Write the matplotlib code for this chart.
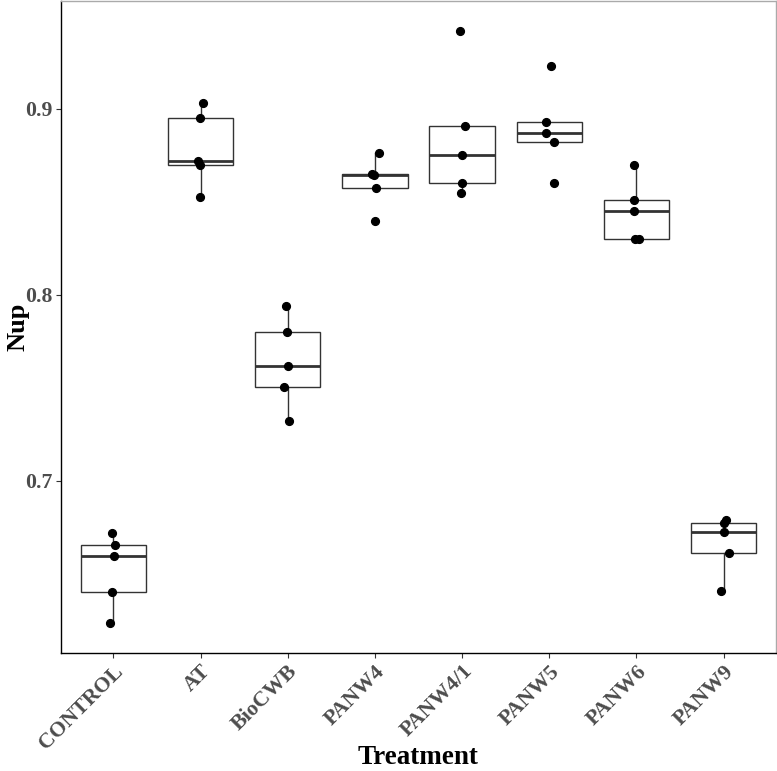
import matplotlib
matplotlib.use("Agg")
import matplotlib.pyplot as plt

treatments = ["CONTROL", "AT", "BioCWB", "PANW4", "PANW4/1", "PANW5", "PANW6", "PANW9"]
control = [0.6717, 0.6654, 0.6595, 0.6403, 0.6233]
at = [0.9032, 0.8948, 0.8720, 0.8699, 0.8527]
biocwb = [0.7939, 0.7801, 0.7618, 0.7502, 0.7323]
panw4 = [0.8760, 0.8649, 0.8641, 0.8572, 0.8398]
panw4_1 = [0.9419, 0.8907, 0.8751, 0.8601, 0.8547]
panw5 = [0.9231, 0.8930, 0.8869, 0.8819, 0.8598]
panw6 = [0.8699, 0.8509, 0.8452, 0.8297, 0.8297]
panw9 = [0.6789, 0.6770, 0.6722, 0.6609, 0.6407]
values = [control, at, biocwb, panw4, panw4_1, panw5, panw6, panw9]

# horizontal jitter of the points (category units)
jitter = [
    [-0.017, 0.017, 0.009, -0.017, -0.037],
    [0.023, -0.005, -0.028, -0.005, -0.008],
    [-0.018, -0.010, 0.005, -0.037, 0.016],
    [0.045, -0.036, -0.009, 0.007, 0.002],
    [-0.023, 0.031, 0.0, 0.0, -0.011],
    [0.025, -0.040, -0.037, 0.052, 0.052],
    [-0.023, -0.023, -0.034, -0.019, 0.026],
    [0.028, 0.009, -0.002, 0.062, -0.030],
]
yticks = [0.7, 0.8, 0.9]

W, H = 777, 771
fig = plt.figure(figsize=(W / 100, H / 100), dpi=100)
ax_h = (653 - 1) / H
ax = fig.add_axes([61 / W, 1 - 653 / H, (776 - 61) / W, ax_h])

serif = ["Liberation Serif", "DejaVu Serif"]
positions = list(range(1, len(treatments) + 1))
box_col = "#333333"
ax.boxplot(values, positions=positions, widths=0.75, showfliers=False, whis=1.5,
           patch_artist=True,
           boxprops=dict(facecolor="white", edgecolor=box_col, linewidth=1.0),
           whiskerprops=dict(color=box_col, linewidth=1.0),
           capprops=dict(linewidth=0),
           medianprops=dict(color=box_col, linewidth=2.0),
           zorder=2)

for i, (vals, jit) in enumerate(zip(values, jitter)):
    xs = [positions[i] + j for j in jit]
    ax.plot(xs, vals, "o", color="black", markersize=5.6, zorder=3, linestyle="none")

ax.set_xlim(0.4, 8.6)
lo = min(min(v) for v in values)
hi = max(max(v) for v in values)
pad = (hi - lo) * 0.05
ax.set_ylim(lo - pad, hi + pad)
ax.set_yticks(yticks)
ax.set_yticklabels([f"{t:.1f}" for t in yticks])
ax.set_xticks(positions)
ax.set_xticklabels(treatments, rotation=45, ha="right", va="top", rotation_mode="anchor")

for lab in ax.get_xticklabels() + ax.get_yticklabels():
    lab.set_fontfamily(serif)
    lab.set_fontweight("bold")
    lab.set_fontsize(15.7)
    lab.set_color("#4D4D4D")

ax.tick_params(axis="both", length=3.5, width=0.8, color="#333333", pad=2.5)

ax.set_xlabel("Treatment", fontfamily=serif, fontweight="bold", fontsize=19.5, va="baseline")
ax.xaxis.set_label_coords(0.5, (653 - 764) / 652)
ax.set_ylabel("Nup", fontfamily=serif, fontweight="bold", fontsize=19)
ax.yaxis.set_label_coords((29 - 61) / 715, 0.5)

for s in ["left", "bottom"]:
    ax.spines[s].set_color("black")
    ax.spines[s].set_linewidth(1.0)
for s in ["top", "right"]:
    ax.spines[s].set_color("#AAAAAA")
    ax.spines[s].set_linewidth(1.0)

fig.savefig("out.png", dpi=100)
